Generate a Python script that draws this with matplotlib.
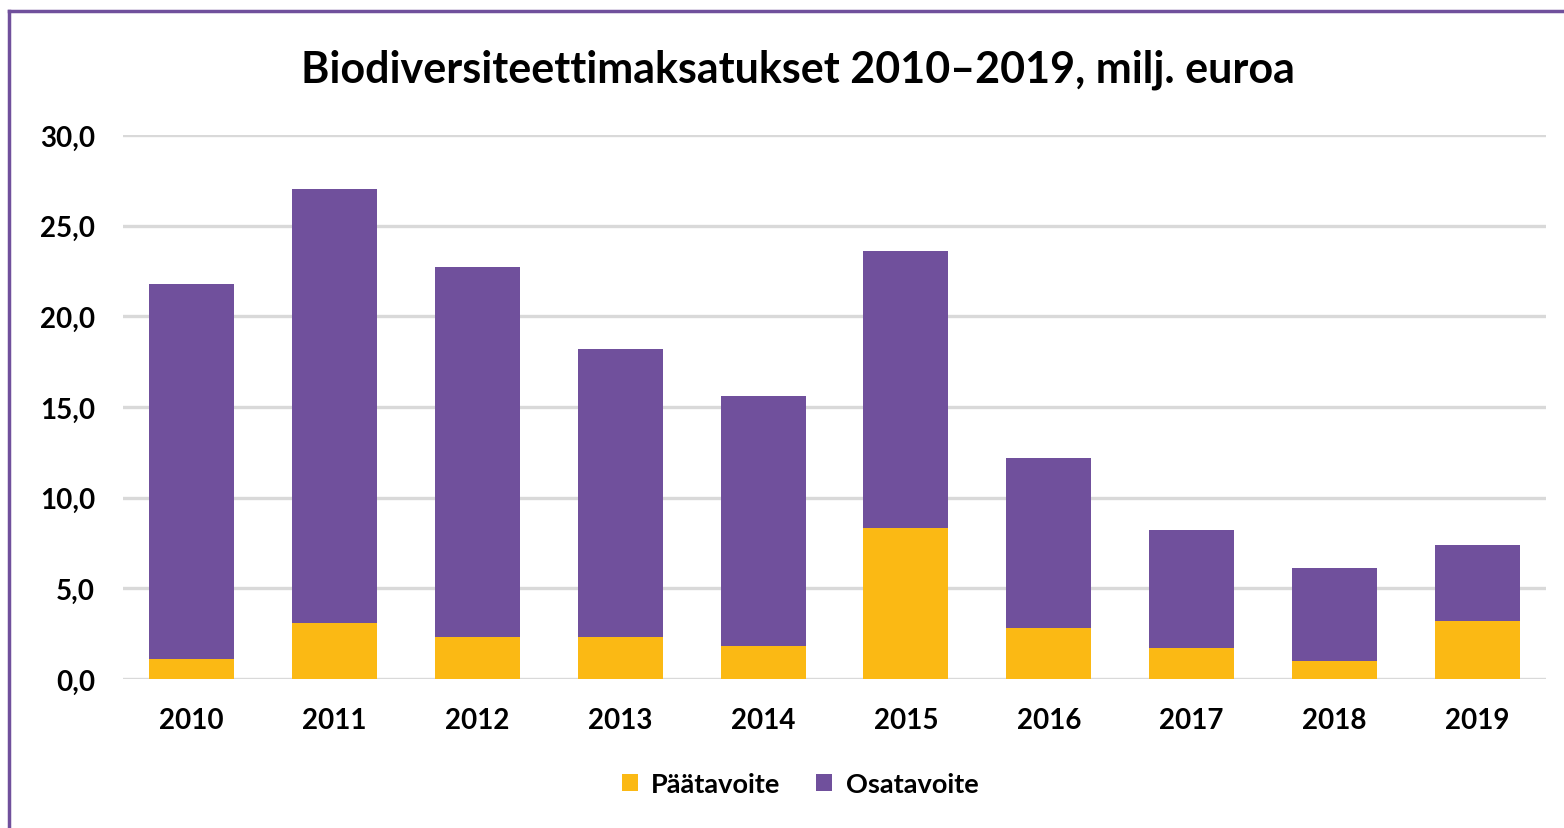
import numpy as np
import matplotlib.pyplot as plt
from matplotlib.lines import Line2D
from matplotlib.ticker import FuncFormatter

# Data (milj. euroa)
vuodet = ['2010', '2011', '2012', '2013', '2014', '2015', '2016', '2017', '2018', '2019']
yhteensa = [21.8, 27.0, 22.7, 18.2, 15.6, 23.6, 12.2, 8.2, 6.1, 7.4]
paatavoite = [1.1, 3.1, 2.3, 2.3, 1.8, 8.3, 2.8, 1.7, 1.0, 3.2]
osatavoite = [round(t - p, 1) for t, p in zip(yhteensa, paatavoite)]

VIOLETTI = '#70509C'
KELTAINEN = '#FBB914'

plt.rcParams['font.family'] = ['Lato', 'DejaVu Sans']
plt.rcParams['font.weight'] = 'bold'

fig = plt.figure(figsize=(15.64, 8.29), dpi=100)
W, H = 1564, 829
ax = fig.add_axes([123 / W, 1 - 680 / H, (1546 - 123) / W, (680 - 136) / H])

x = np.arange(len(vuodet))
ax.bar(x, paatavoite, width=0.595, color=KELTAINEN, label='Päätavoite', zorder=3)
ax.bar(x, osatavoite, width=0.595, bottom=paatavoite, color=VIOLETTI, label='Osatavoite', zorder=3)

ax.set_xlim(-0.48, len(vuodet) - 0.52)
ax.set_ylim(0, 30)
ax.set_yticks(np.arange(0, 31, 5))
ax.yaxis.set_major_formatter(FuncFormatter(lambda v, _: f'{v:.1f}'.replace('.', ',')))
ax.set_xticks(x)
ax.set_xticklabels(vuodet)
ax.tick_params(axis='both', length=0, labelsize=20, colors='black')
ax.tick_params(axis='x', pad=20)
ax.tick_params(axis='y', pad=20)
ax.grid(axis='y', color='#D9D9D9', linewidth=2.4, zorder=0)
for s in ax.spines.values():
    s.set_visible(False)

fig.text(798 / W, 1 - 70 / H, 'Biodiversiteettimaksatukset 2010–2019, milj. euroa',
         ha='center', va='center', fontsize=31, fontweight='bold')

ax.legend(loc='center', bbox_to_anchor=(800 / W, 1 - 785 / H), bbox_transform=fig.transFigure,
          ncol=2, frameon=False, fontsize=19.5, handlelength=0.6, handleheight=0.6,
          handletextpad=0.5, columnspacing=1.3)

# purple frame (top and left edges)
fig.add_artist(Line2D([9 / W, 1], [1 - 12 / H, 1 - 12 / H], color=VIOLETTI, linewidth=2.5))
fig.add_artist(Line2D([9 / W, 9 / W], [0, 1 - 12 / H], color=VIOLETTI, linewidth=2.5))

fig.savefig('out.png', dpi=100)
